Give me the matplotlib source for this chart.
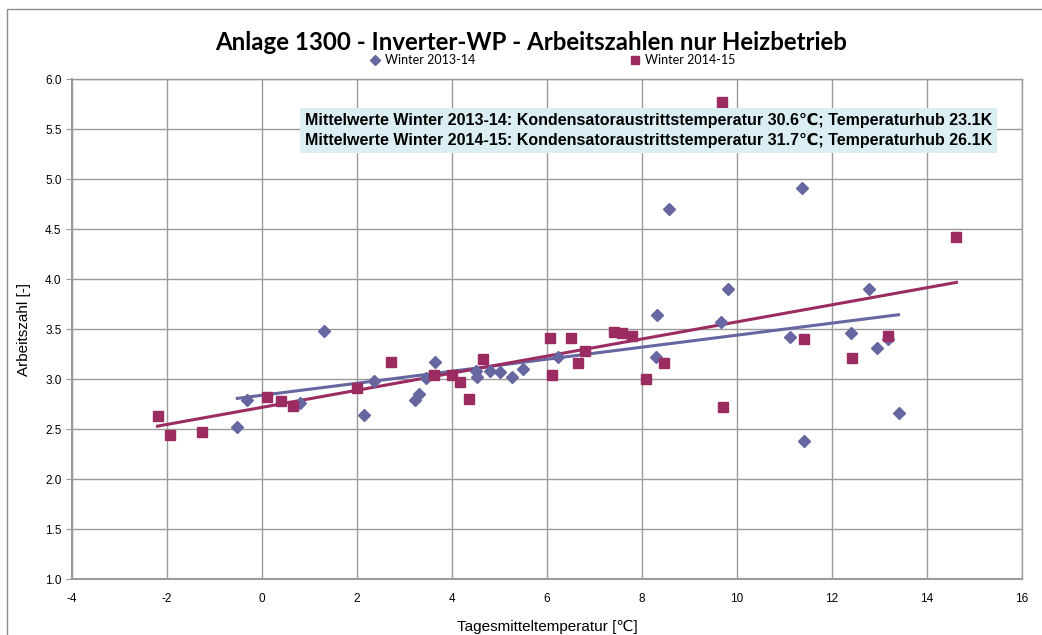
import numpy as np
import matplotlib
matplotlib.use('Agg')
import matplotlib.pyplot as plt
from matplotlib.patches import Rectangle

# Winter 2013-14 (Tagesmitteltemperatur, Arbeitszahl)
x13 = [-0.52, -0.31, 0.80, 1.30, 2.14, 2.36, 3.23, 3.30, 3.46, 3.64, 4.50, 4.52, 4.80, 5.02, 5.27,
       5.50, 6.24, 8.29, 8.31, 8.56, 9.66, 9.80, 11.12, 11.37, 11.40, 12.40, 12.77, 12.94, 13.17, 13.40]
y13 = [2.52, 2.79, 2.76, 3.48, 2.64, 2.98, 2.79, 2.85, 3.01, 3.17, 3.08, 3.02, 3.08, 3.07, 3.02,
       3.10, 3.22, 3.22, 3.64, 4.70, 3.57, 3.90, 3.42, 4.91, 2.38, 3.46, 3.90, 3.31, 3.40, 2.66]

# Winter 2014-15
x14 = [-2.20, -1.93, -1.27, 0.10, 0.39, 0.66, 2.00, 2.72, 3.62, 4.00, 4.16, 4.35, 4.65, 6.06, 6.10,
       6.51, 6.66, 6.79, 7.40, 7.57, 7.79, 8.08, 8.47, 9.69, 9.70, 11.41, 12.43, 13.17, 14.62]
y14 = [2.63, 2.44, 2.47, 2.82, 2.78, 2.73, 2.91, 3.17, 3.04, 3.04, 2.97, 2.80, 3.20, 3.41, 3.04,
       3.41, 3.16, 3.28, 3.47, 3.46, 3.43, 3.00, 3.16, 5.77, 2.72, 3.40, 3.21, 3.43, 4.42]

info = ['Mittelwerte Winter 2013-14: Kondensatoraustrittstemperatur 30.6\u2103; Temperaturhub 23.1K',
        'Mittelwerte Winter 2014-15: Kondensatoraustrittstemperatur 31.7\u2103; Temperaturhub 26.1K']

c13 = '#6666a0'
c14 = '#9b2c62'
grid_c = '#9a9a9a'
sans = ['Liberation Sans', 'DejaVu Sans']
plt.rcParams['axes.unicode_minus'] = False

fig = plt.figure(figsize=(10.42, 6.35), dpi=100)
ax = fig.add_axes([72/1042, 1 - 579/635, 950/1042, 500/635])

# aussenrahmen wie im excel diagramm
fig.patches.append(Rectangle((7/1042, -0.1), 1.1, 1 - 9/635 + 0.1, transform=fig.transFigure,
                             fill=False, edgecolor='#8c8c8c', linewidth=1.0))

ax.plot(x13, y13, 'D', color=c13, ms=6, label='Winter 2013-14', zorder=3)
ax.plot(x14, y14, 's', color=c14, ms=7, label='Winter 2014-15', zorder=3)

# lineare trendlinien
for xs, ys, c in [(x13, y13, c13), (x14, y14, c14)]:
    k, d = np.polyfit(xs, ys, 1)
    xx = np.array([min(xs), max(xs)])
    ax.plot(xx, k*xx + d, color=c, lw=2.2, zorder=2)

ax.set_xlim(-4, 16)
ax.set_ylim(1.0, 6.0)
ax.set_xticks(np.arange(-4, 17, 2))
ax.set_yticks(np.arange(1.0, 6.01, 0.5))
ax.set_yticklabels([f'{v:.1f}' for v in np.arange(1.0, 6.01, 0.5)])
ax.grid(True, color=grid_c, lw=1.0)
ax.set_axisbelow(True)
for s in ax.spines.values():
    s.set_color(grid_c)
    s.set_linewidth(1.0)
ax.spines['left'].set_linewidth(1.5)
ax.spines['bottom'].set_linewidth(1.5)
ax.tick_params(axis='both', colors=grid_c, labelcolor='black', labelsize=8.5, length=4)
ax.tick_params(axis='x', length=0, pad=10)
for lab in ax.get_xticklabels() + ax.get_yticklabels():
    lab.set_family(sans)

ax.set_xlabel('Tagesmitteltemperatur [\u2103]', fontsize=11, family=sans, labelpad=11)
ax.set_ylabel('Arbeitszahl [-]', fontsize=11, family=sans, labelpad=10)

fig.text(531/1042, 1 - 42/635, 'Anlage 1300 - Inverter-WP - Arbeitszahlen nur Heizbetrieb',
         ha='center', va='center', fontsize=17.3, fontweight='bold', family=['Lato', 'DejaVu Sans'])

fig.legend(loc='center', bbox_to_anchor=(0.53, 1 - 60/635), ncol=2, frameon=False,
           prop={'family': ['Lato', 'DejaVu Sans'], 'size': 9}, columnspacing=12.3,
           handletextpad=0.3, handlelength=1.0, markerscale=0.8)

ax.text(305/1042, 1 - 113/635, '\n'.join(info), transform=fig.transFigure, ha='left', va='top',
        fontsize=11.5, fontweight='bold', family=sans, linespacing=1.38, zorder=5,
        bbox=dict(facecolor='#dbeef3', edgecolor='none', boxstyle='square,pad=0.32'))

fig.savefig('out.png', dpi=100)
